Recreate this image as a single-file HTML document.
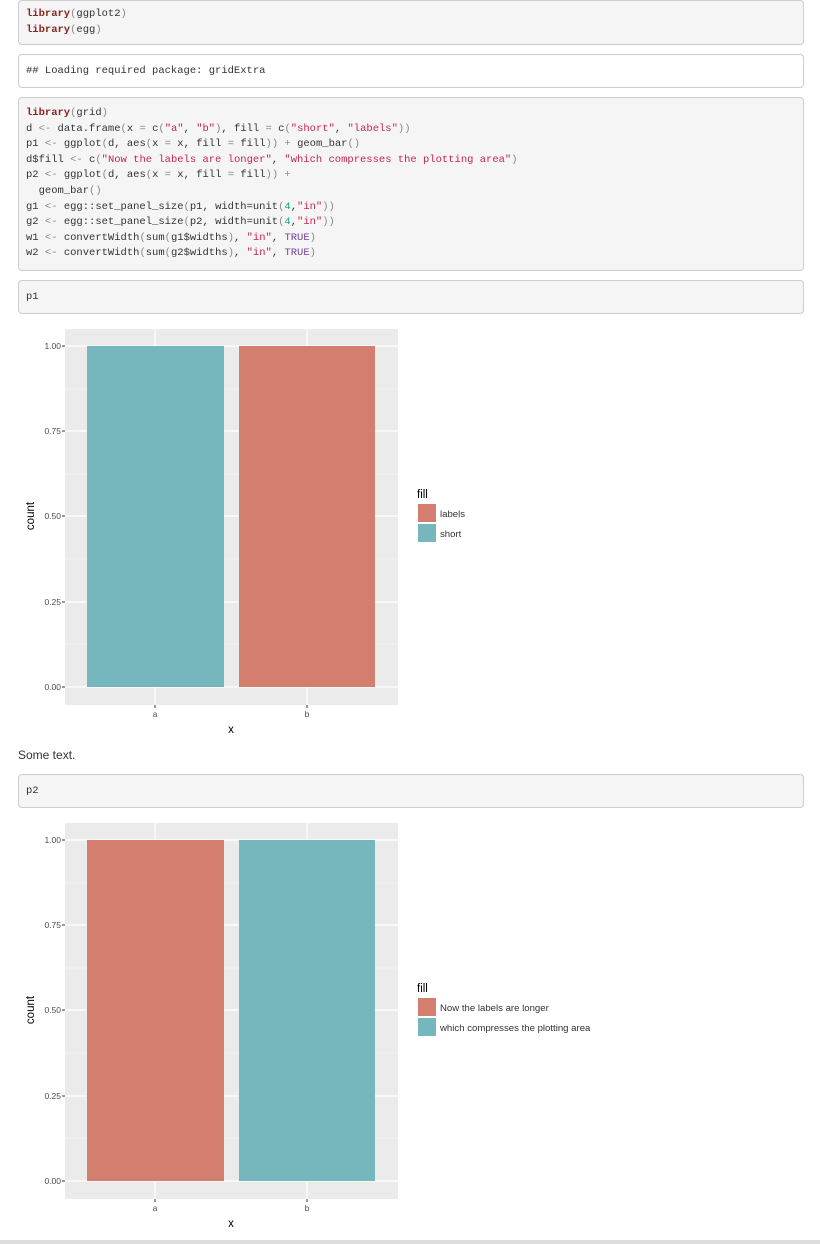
<!DOCTYPE html>
<html><head><meta charset="utf-8"><style>
body{margin:0;width:820px;height:1244px;background:#fff;position:relative;overflow:hidden;font-family:"Liberation Sans",sans-serif}
.box{position:absolute;left:18px;width:786px;background:#f5f5f5;border:1px solid #ccc;border-radius:4px;box-sizing:border-box}
.code{position:absolute;left:26px;font-family:"Liberation Mono",monospace;font-size:10.5px;line-height:15.6px;color:#333;white-space:pre;font-weight:normal}
.k{color:#8b2323;font-weight:bold}.s{color:#c7254e}.n{color:#0a8}.p{color:#888}.t{color:#7a3e9d}
</style></head><body>
<div class="box" style="top:0;height:45px"></div>
<div class="code" style="top:7px"><span class="k">library</span><span class="p">(</span>ggplot2<span class="p">)</span>
<span class="k">library</span><span class="p">(</span>egg<span class="p">)</span></div>
<div class="box" style="top:54px;height:34px;background:#fff"></div>
<div class="code" style="top:64px">## Loading required package: gridExtra</div>
<div class="box" style="top:97px;height:174px"></div>
<div class="code" style="top:106px"><span class="k">library</span><span class="p">(</span>grid<span class="p">)</span>
d <span class="p">&lt;-</span> data.frame<span class="p">(</span>x <span class="p">=</span> c<span class="p">(</span><span class="s">"a"</span>, <span class="s">"b"</span><span class="p">)</span>, fill <span class="p">=</span> c<span class="p">(</span><span class="s">"short"</span>, <span class="s">"labels"</span><span class="p">))</span>
p1 <span class="p">&lt;-</span> ggplot<span class="p">(</span>d, aes<span class="p">(</span>x <span class="p">=</span> x, fill <span class="p">=</span> fill<span class="p">))</span> <span class="p">+</span> geom_bar<span class="p">()</span>
d$fill <span class="p">&lt;-</span> c<span class="p">(</span><span class="s">"Now the labels are longer"</span>, <span class="s">"which compresses the plotting area"</span><span class="p">)</span>
p2 <span class="p">&lt;-</span> ggplot<span class="p">(</span>d, aes<span class="p">(</span>x <span class="p">=</span> x, fill <span class="p">=</span> fill<span class="p">))</span> <span class="p">+</span>
  geom_bar<span class="p">()</span>
g1 <span class="p">&lt;-</span> egg::set_panel_size<span class="p">(</span>p1, width=unit<span class="p">(</span><span class="n">4</span>,<span class="s">"in"</span><span class="p">))</span>
g2 <span class="p">&lt;-</span> egg::set_panel_size<span class="p">(</span>p2, width=unit<span class="p">(</span><span class="n">4</span>,<span class="s">"in"</span><span class="p">))</span>
w1 <span class="p">&lt;-</span> convertWidth<span class="p">(</span>sum<span class="p">(</span>g1$widths<span class="p">)</span>, <span class="s">"in"</span>, <span class="t">TRUE</span><span class="p">)</span>
w2 <span class="p">&lt;-</span> convertWidth<span class="p">(</span>sum<span class="p">(</span>g2$widths<span class="p">)</span>, <span class="s">"in"</span>, <span class="t">TRUE</span><span class="p">)</span></div>
<div class="box" style="top:280px;height:34px"></div>
<div class="code" style="top:290px">p1</div>
<div style="position:absolute;left:18px;top:748px;font-size:12px;color:#333">Some text.</div>
<div class="box" style="top:774px;height:34px"></div>
<div class="code" style="top:784px">p2</div>
<div style="position:absolute;left:0;top:1240px;width:820px;height:4px;background:#ddd"></div>

<svg width="820" height="1244" style="position:absolute;left:0;top:0" font-family="Liberation Sans, sans-serif">
<g id="p1">
<rect x="65" y="329" width="333" height="376" fill="#ebebeb"/>
<g stroke="#f5f5f5" stroke-width="0.6"><line x1="65" x2="398" y1="389" y2="389"/><line x1="65" x2="398" y1="474" y2="474"/><line x1="65" x2="398" y1="559" y2="559"/><line x1="65" x2="398" y1="644" y2="644"/></g>
<g stroke="#fff" stroke-width="1.2"><line x1="65" x2="398" y1="346" y2="346"/><line x1="65" x2="398" y1="431" y2="431"/><line x1="65" x2="398" y1="516" y2="516"/><line x1="65" x2="398" y1="602" y2="602"/><line x1="65" x2="398" y1="687" y2="687"/><line x1="155" x2="155" y1="329" y2="705"/><line x1="307" x2="307" y1="329" y2="705"/></g>
<rect x="87" y="346" width="137" height="341" fill="#76b7bd"/>
<rect x="239" y="346" width="136" height="341" fill="#d47e70"/>
<g font-size="8.5" fill="#4d4d4d" text-anchor="end"><text x="61" y="349">1.00</text><text x="61" y="434">0.75</text><text x="61" y="519">0.50</text><text x="61" y="605">0.25</text><text x="61" y="690">0.00</text></g>
<g stroke="#333" stroke-width="1"><line x1="62" x2="65" y1="346" y2="346"/><line x1="62" x2="65" y1="431" y2="431"/><line x1="62" x2="65" y1="516" y2="516"/><line x1="62" x2="65" y1="602" y2="602"/><line x1="62" x2="65" y1="687" y2="687"/><line x1="155" x2="155" y1="705" y2="708"/><line x1="307" x2="307" y1="705" y2="708"/></g>
<g font-size="8.5" fill="#4d4d4d" text-anchor="middle"><text x="155" y="717">a</text><text x="307" y="717">b</text></g>
<text x="231" y="733" font-size="11.5" text-anchor="middle">x</text>
<text transform="translate(34,516) rotate(-90)" font-size="11.5" text-anchor="middle">count</text>
<text x="417" y="498" font-size="11.5">fill</text>
<rect x="418" y="504" width="18" height="18" fill="#d47e70"/><rect x="418" y="524" width="18" height="18" fill="#76b7bd"/>
<g font-size="9.6" fill="#333"><text x="440" y="517">labels</text><text x="440" y="537">short</text></g>
</g>
<g transform="translate(0,494)">
<rect x="65" y="329" width="333" height="376" fill="#ebebeb"/>
<g stroke="#f5f5f5" stroke-width="0.6"><line x1="65" x2="398" y1="389" y2="389"/><line x1="65" x2="398" y1="474" y2="474"/><line x1="65" x2="398" y1="559" y2="559"/><line x1="65" x2="398" y1="644" y2="644"/></g>
<g stroke="#fff" stroke-width="1.2"><line x1="65" x2="398" y1="346" y2="346"/><line x1="65" x2="398" y1="431" y2="431"/><line x1="65" x2="398" y1="516" y2="516"/><line x1="65" x2="398" y1="602" y2="602"/><line x1="65" x2="398" y1="687" y2="687"/><line x1="155" x2="155" y1="329" y2="705"/><line x1="307" x2="307" y1="329" y2="705"/></g>
<rect x="87" y="346" width="137" height="341" fill="#d47e70"/>
<rect x="239" y="346" width="136" height="341" fill="#76b7bd"/>
<g font-size="8.5" fill="#4d4d4d" text-anchor="end"><text x="61" y="349">1.00</text><text x="61" y="434">0.75</text><text x="61" y="519">0.50</text><text x="61" y="605">0.25</text><text x="61" y="690">0.00</text></g>
<g stroke="#333" stroke-width="1"><line x1="62" x2="65" y1="346" y2="346"/><line x1="62" x2="65" y1="431" y2="431"/><line x1="62" x2="65" y1="516" y2="516"/><line x1="62" x2="65" y1="602" y2="602"/><line x1="62" x2="65" y1="687" y2="687"/><line x1="155" x2="155" y1="705" y2="708"/><line x1="307" x2="307" y1="705" y2="708"/></g>
<g font-size="8.5" fill="#4d4d4d" text-anchor="middle"><text x="155" y="717">a</text><text x="307" y="717">b</text></g>
<text x="231" y="733" font-size="11.5" text-anchor="middle">x</text>
<text transform="translate(34,516) rotate(-90)" font-size="11.5" text-anchor="middle">count</text>
<text x="417" y="498" font-size="11.5">fill</text>
<rect x="418" y="504" width="18" height="18" fill="#d47e70"/><rect x="418" y="524" width="18" height="18" fill="#76b7bd"/>
<g font-size="9.6" fill="#333"><text x="440" y="517">Now the labels are longer</text><text x="440" y="537">which compresses the plotting area</text></g>
</g>
</svg>
</body></html>
